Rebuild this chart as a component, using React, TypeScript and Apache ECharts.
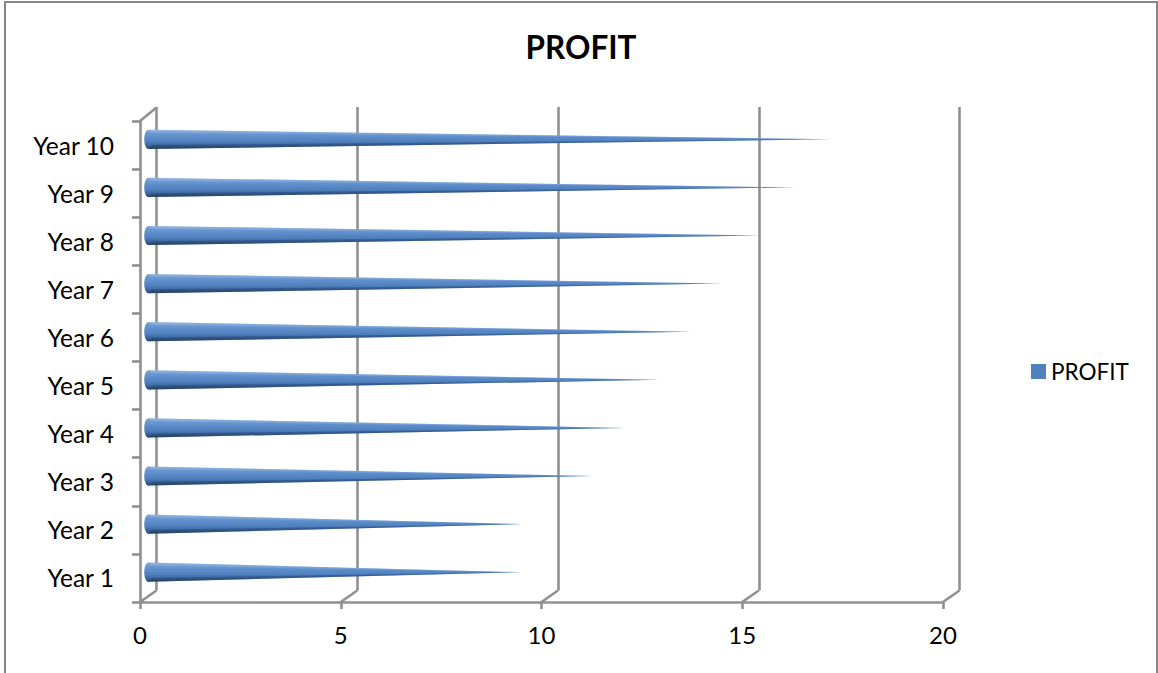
import React, { useEffect, useRef } from "react";
import * as echarts from "echarts";

const categories = ["Year 1", "Year 2", "Year 3", "Year 4", "Year 5", "Year 6", "Year 7", "Year 8", "Year 9", "Year 10"];
const profit = [9.29, 9.33, 11.1, 11.88, 12.73, 13.52, 14.26, 15.23, 16.1, 17.0];
const valueTicks = [0, 5, 10, 15, 20];

const GREY = "#909090";
const LINE_W = 2.6;
const DEPTH_X = 16.5;
const DEPTH_Y = 11.5;

const FONT = "Lato, 'Open Sans', sans-serif";

const coneStops = [
  { offset: 0, color: "#86abda" },
  { offset: 0.18, color: "#6a98d1" },
  { offset: 0.42, color: "#5a8ac8" },
  { offset: 0.62, color: "#4f7fbd" },
  { offset: 0.8, color: "#3f6a9f" },
  { offset: 1, color: "#264568" },
];

function renderCone(params: any, api: any) {
  const v = api.value(0);
  const c = api.value(1);
  const tip0 = api.coord([v, c]);
  const base0 = api.coord([0, c]);
  const band = api.size([0, 1])[1];
  const r = band * 0.2;
  const cx = base0[0] + DEPTH_X / 2;
  const cy = base0[1] - DEPTH_Y / 2;
  const tx = tip0[0] + DEPTH_X / 2;
  const fill = new echarts.graphic.LinearGradient(0, 0, 0, 1, coneStops);
  return {
    type: "group",
    children: [
      { type: "polygon", shape: { points: [[cx, cy - r], [tx, cy], [cx, cy + r]] }, style: { fill } },
      // Light and dark slivers keep the shading tapered along the cone's length.
      {
        type: "polygon",
        shape: { points: [[cx, cy - r], [tx, cy], [cx, cy - r * 0.7]] },
        style: { fill: "#a9c6ea", opacity: 0.3 },
      },
      {
        type: "polygon",
        shape: { points: [[cx, cy + r * 0.6], [tx, cy], [cx, cy + r]] },
        style: { fill: "#1f3d63", opacity: 0.4 },
      },
      { type: "ellipse", shape: { cx, cy, rx: 4, ry: r }, style: { fill } },
    ],
  };
}

function renderFloorEdge(params: any, api: any) {
  const x = api.coord([api.value(0), 0])[0];
  const y = params.coordSys.y + params.coordSys.height;
  return {
    type: "line",
    shape: { x1: x, y1: y, x2: x + DEPTH_X, y2: y - DEPTH_Y },
    style: { stroke: GREY, lineWidth: LINE_W },
  };
}

function renderWallEdge(params: any, api: any) {
  const cs = params.coordSys;
  return {
    type: "line",
    shape: { x1: cs.x, y1: cs.y, x2: cs.x + DEPTH_X, y2: cs.y - DEPTH_Y - 2 },
    style: { stroke: GREY, lineWidth: LINE_W },
  };
}

export default function App() {
  const ref = useRef<HTMLDivElement>(null);
  useEffect(() => {
    if (!ref.current) return;
    const chart = echarts.init(ref.current, undefined, { renderer: "svg" });
    chart.setOption({
      animation: false,
      backgroundColor: "#ffffff",
      textStyle: { fontFamily: FONT },
      title: {
        text: "PROFIT",
        left: 576,
        top: 26,
        textAlign: "center",
        textStyle: { fontFamily: FONT, fontSize: 31.5, fontWeight: "bold", color: "#000000" },
      },
      legend: {
        left: 1026,
        top: 355,
        itemWidth: 15,
        itemHeight: 15,
        itemGap: 8,
        icon: "rect",
        data: [{ name: "PROFIT", itemStyle: { color: "#4f81bd" } }],
        textStyle: { fontFamily: FONT, fontSize: 22.5, color: "#000000", padding: [0, 0, 0, 0] },
      },
      graphic: [
        {
          type: "rect",
          shape: { x: 5, y: 2, width: 1152, height: 720 },
          style: { fill: "none", stroke: "#868686", lineWidth: 2 },
          silent: true,
          z: -10,
        },
      ],
      grid: [
        { left: 140, right: 215, top: 121, bottom: 71 },
        { left: 156.5, right: 198.5, top: 107, bottom: 82.5 },
      ],
      xAxis: [
        {
          type: "value",
          gridIndex: 0,
          min: 0,
          max: 20,
          interval: 5,
          axisLine: { show: true, lineStyle: { color: GREY, width: LINE_W } },
          axisTick: { show: true, length: 7, lineStyle: { color: GREY, width: LINE_W } },
          axisLabel: { fontFamily: FONT, fontSize: 24, color: "#000000", margin: 20 },
          splitLine: { show: false },
        },
        {
          type: "value",
          gridIndex: 1,
          min: 0,
          max: 20,
          interval: 5,
          axisLine: { show: false },
          axisTick: { show: false },
          axisLabel: { show: false },
          splitLine: { show: true, lineStyle: { color: GREY, width: LINE_W } },
        },
      ],
      yAxis: [
        {
          type: "category",
          gridIndex: 0,
          data: categories,
          axisLine: { show: true, lineStyle: { color: GREY, width: LINE_W } },
          axisTick: { show: true, length: 8, lineStyle: { color: GREY, width: LINE_W } },
          axisLabel: { fontFamily: FONT, fontSize: 24.5, color: "#000000", margin: 26, padding: [4, 0, 0, 0] },
        },
        {
          type: "category",
          gridIndex: 1,
          data: categories,
          axisLine: { show: false },
          axisTick: { show: false },
          axisLabel: { show: false },
        },
      ],
      series: [
        {
          type: "custom",
          name: "floor",
          xAxisIndex: 0,
          yAxisIndex: 0,
          silent: true,
          z: 1,
          encode: { x: 0 },
          data: valueTicks.map((v) => [v]),
          renderItem: renderFloorEdge,
        },
        {
          type: "custom",
          name: "wall",
          xAxisIndex: 0,
          yAxisIndex: 0,
          silent: true,
          z: 1,
          encode: { x: 0 },
          data: [[0]],
          renderItem: renderWallEdge,
        },
        {
          type: "custom",
          name: "PROFIT",
          xAxisIndex: 0,
          yAxisIndex: 0,
          z: 5,
          itemStyle: { color: "#4f81bd" },
          encode: { x: 0, y: 1 },
          data: profit.map((v, i) => [v, i]),
          renderItem: renderCone,
        },
      ],
    });
    return () => chart.dispose();
  }, []);
  return <div ref={ref} style={{ position: "fixed", left: 0, top: 0, width: 1158, height: 673 }} />;
}
